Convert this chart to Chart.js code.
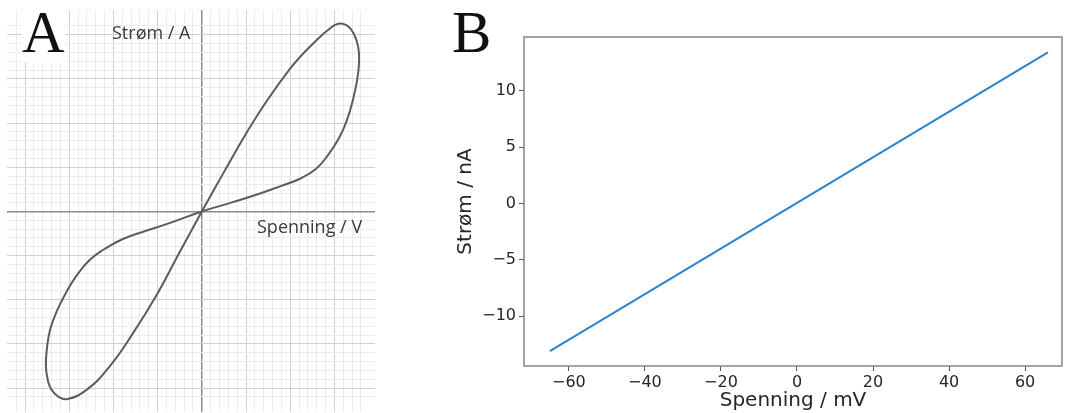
<!DOCTYPE html>
<html>
<head>
<meta charset="utf-8">
<title>Strøm og spenning</title>
<script src="https://cdn.jsdelivr.net/npm/chart.js@4.4.1/dist/chart.umd.min.js"></script>
<style>
  html, body { margin: 0; padding: 0; background: #fff; }
  body { width: 1067px; height: 413px; position: relative; overflow: hidden; }
  canvas { position: absolute; top: 0; }
  #chartA { left: 0; }
  #chartB { left: 440px; }
  .letter { position: absolute; top: 3px; font-family: 'Liberation Serif', serif; font-size: 59px; line-height: 1; color: #111; }
  .note { position: absolute; font-family: 'Open Sans', sans-serif; font-size: 18px; line-height: 1; color: #3a3a3a; white-space: nowrap; }
</style>
</head>
<body>
<canvas id="chartA" width="400" height="413"></canvas>
<canvas id="chartB" width="627" height="413"></canvas>
<div class="letter" style="left:22px; background:#fff;">A</div>
<div class="letter" style="left:452px;">B</div>
<div class="note" style="left:112px; top:23px;">Strøm / A</div>
<div class="note" style="left:257px; top:217px;">Spenning / V</div>
<script>
// panel A: pinched loop (1 unit = one major square)
// upper lobe: steep branch up, round the top, flat branch back to origin
// lower lobe: flat branch out, round the bottom, steep branch back
const loopV = [0, 0.50, 1.00, 1.47, 1.99, 2.30, 2.60, 2.85, 3.09, 3.30, 3.45, 3.54, 3.56, 3.52, 3.42, 3.28, 3.10, 2.86, 2.58, 2.22, 1.80, 1.30, 0.70,
               0, -0.75, -1.30, -1.80, -2.20, -2.54, -2.84, -3.08, -3.28, -3.43, -3.50, -3.53, -3.48, -3.40, -3.25, -3.06, -2.61, -2.08, -1.56, -1.00, -0.50, 0];
const loopI = [0, 0.89, 1.76, 2.50, 3.22, 3.58, 3.88, 4.10, 4.25, 4.20, 4.00, 3.72, 3.40, 3.00, 2.52, 2.05, 1.65, 1.28, 0.96, 0.74, 0.58, 0.40, 0.21,
               0, -0.27, -0.45, -0.63, -0.85, -1.10, -1.46, -1.85, -2.25, -2.66, -3.05, -3.50, -3.85, -4.04, -4.19, -4.25, -4.04, -3.50, -2.76, -1.85, -0.92, 0];

// panel B: linear I-V line
const ivVoltage = [-65, 66];
const ivCurrent = [-13.1, 13.4];
const xTicksB = [-60, -40, -20, 0, 20, 40, 60];
const yTicksB = [-10, -5, 0, 5, 10];

function gridTone(ctx) {
  const v = ctx.tick ? ctx.tick.value : NaN;
  if (Math.abs(v) < 1e-6) return '#8e8e8e';
  if (Math.abs(v - Math.round(v)) < 1e-6) return '#d0d0d0';
  if (Math.abs(v * 5 - Math.round(v * 5)) < 1e-6) return '#ececec';
  return 'rgba(0,0,0,0)';
}
function gridWidth(ctx) {
  const v = ctx.tick ? ctx.tick.value : NaN;
  return Math.abs(v) < 1e-6 ? 1.5 : 1;
}

const gridScale = (min, max) => ({
  type: 'linear',
  min: min,
  max: max,
  ticks: { display: false, stepSize: 0.2, autoSkip: false },
  grid: { drawTicks: false, color: gridTone, lineWidth: gridWidth },
  border: { display: false }
});

new Chart(document.getElementById('chartA'), {
  type: 'scatter',
  data: {
    datasets: [{
      data: loopV.map((v, i) => ({ x: v, y: loopI[i] })),
      showLine: true,
      borderColor: '#5c5c5c',
      borderWidth: 2,
      pointRadius: 0,
      tension: 0.45
    }]
  },
  options: {
    responsive: false,
    animation: false,
    layout: { padding: { left: 7, top: 10, right: 25, bottom: 1 } },
    plugins: { legend: { display: false }, tooltip: { enabled: false } },
    scales: {
      x: gridScale(-4.41, 3.92),
      y: gridScale(-4.54, 4.56)
    }
  }
});

const minusFmt = v => (v < 0 ? '\u2212' + Math.abs(v) : String(v));

const frame = {
  id: 'frame',
  beforeDatasetsDraw(chart) {
    const { ctx, chartArea: a } = chart;
    ctx.save();
    ctx.strokeStyle = '#858585';
    ctx.lineWidth = 1.5;
    ctx.strokeRect(a.left, a.top, a.right - a.left, a.bottom - a.top);
    ctx.restore();
  }
};

const tickFont = { family: 'DejaVu Sans', size: 16 };
const titleFont = { family: 'DejaVu Sans', size: 20 };

new Chart(document.getElementById('chartB'), {
  type: 'scatter',
  data: {
    datasets: [{
      data: ivVoltage.map((v, i) => ({ x: v, y: ivCurrent[i] })),
      showLine: true,
      borderColor: '#2b84c6',
      borderWidth: 2,
      pointRadius: 0
    }]
  },
  options: {
    responsive: false,
    animation: false,
    layout: { padding: { left: 0, top: 37, right: 5, bottom: 0 } },
    plugins: { legend: { display: false }, tooltip: { enabled: false } },
    scales: {
      x: {
        type: 'linear',
        min: -71.8,
        max: 69.7,
        afterBuildTicks: s => { s.ticks = xTicksB.map(v => ({ value: v })); },
        afterFit: s => { s.height = 47; },
        grid: { drawOnChartArea: false, drawTicks: true, tickLength: 5, tickColor: '#555' },
        border: { display: false },
        ticks: { padding: 2, color: '#262626', font: tickFont, maxRotation: 0, autoSkip: false, callback: minusFmt },
        title: { display: true, text: 'Spenning / mV', color: '#262626', font: titleFont, padding: { top: 0, bottom: 0 } }
      },
      y: {
        type: 'linear',
        min: -14.42,
        max: 14.77,
        afterBuildTicks: s => { s.ticks = yTicksB.map(v => ({ value: v })); },
        afterFit: s => { s.width = 84; },
        grid: { drawOnChartArea: false, drawTicks: true, tickLength: 5, tickColor: '#555' },
        border: { display: false },
        ticks: { padding: 3, color: '#262626', font: tickFont, autoSkip: false, callback: minusFmt },
        title: { display: true, text: 'Strøm / nA', color: '#262626', font: titleFont, padding: { top: 14, bottom: 0 } }
      }
    }
  },
  plugins: [frame]
});
</script>
</body>
</html>
